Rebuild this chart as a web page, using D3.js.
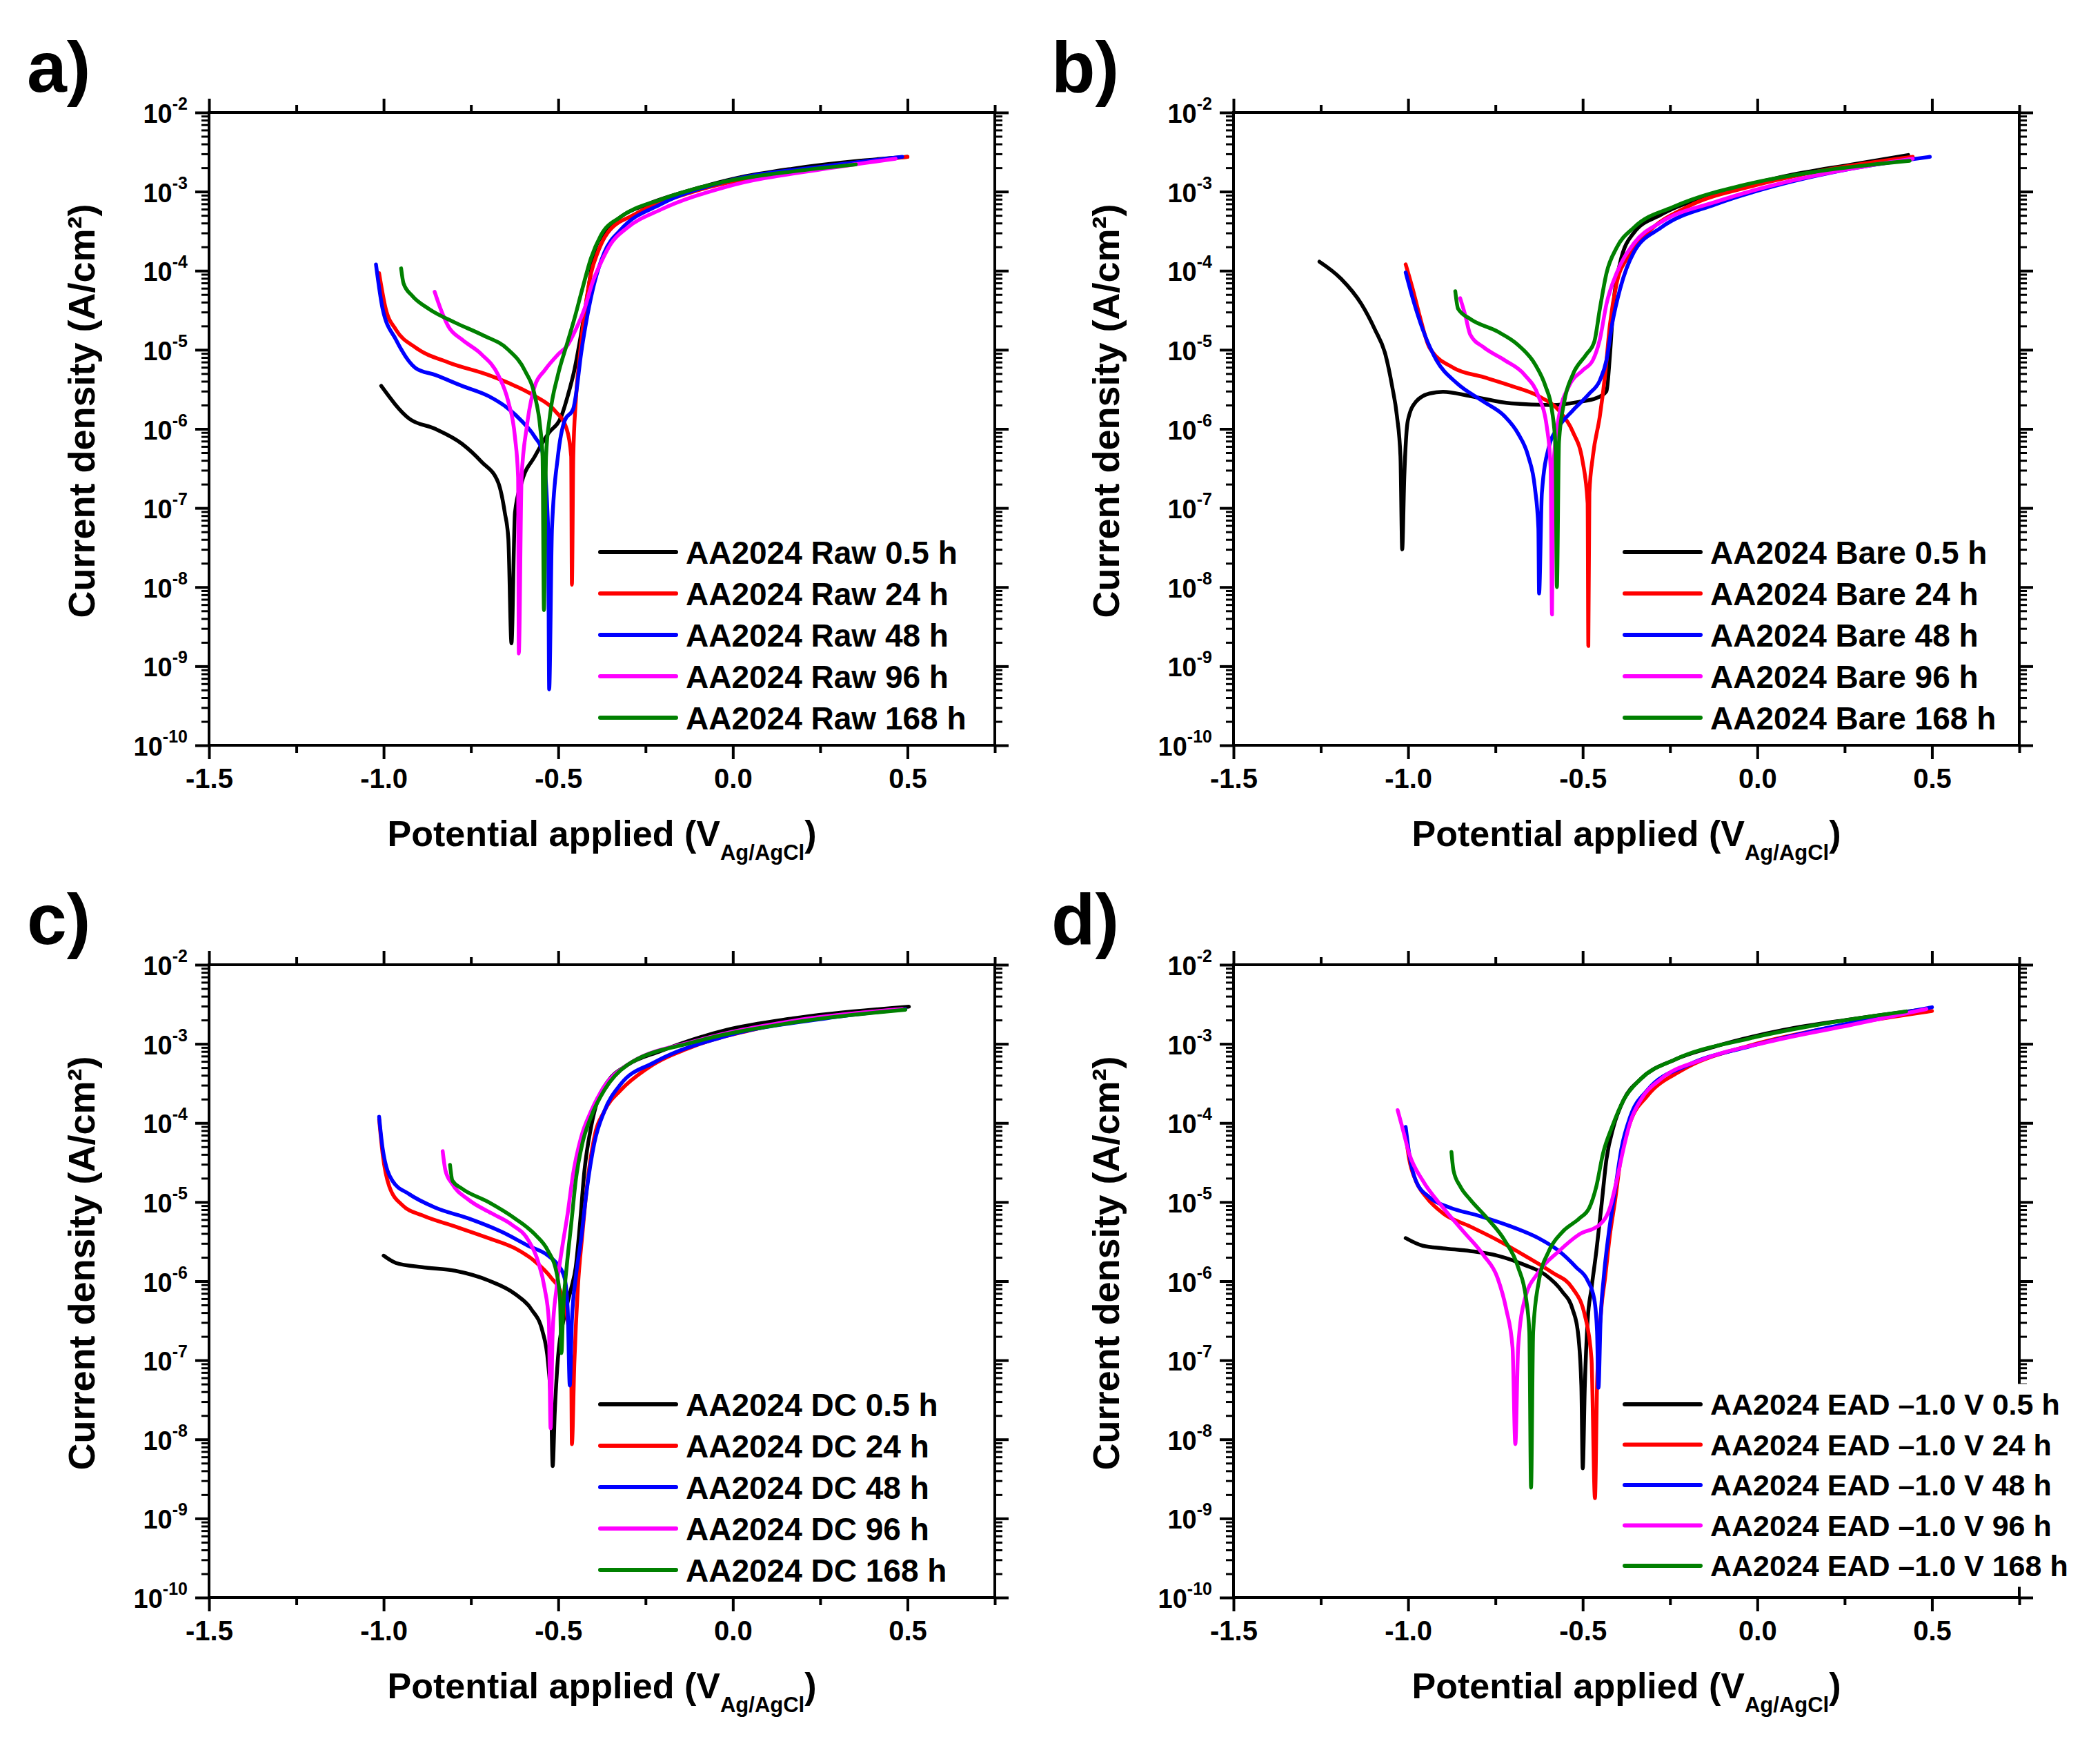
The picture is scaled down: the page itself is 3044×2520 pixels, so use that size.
<!DOCTYPE html>
<html>
<head>
<meta charset="utf-8">
<script src="https://cdn.jsdelivr.net/npm/d3@7"></script>
<style>
body { margin: 0; background: #fff; }
</style>
</head>
<body>
<svg id="fig" width="3044" height="2520"></svg>
<script>
// ---- data: potential (V vs Ag/AgCl), current density (A/cm2) ----
var series_colours = ["#000000", "#ff0000", "#0000ff", "#ff00ff", "#008000"];

var raw_labels = ["AA2024 Raw 0.5 h", "AA2024 Raw 24 h", "AA2024 Raw 48 h", "AA2024 Raw 96 h", "AA2024 Raw 168 h"];
var bare_labels = ["AA2024 Bare 0.5 h", "AA2024 Bare 24 h", "AA2024 Bare 48 h", "AA2024 Bare 96 h", "AA2024 Bare 168 h"];
var dc_labels = ["AA2024 DC 0.5 h", "AA2024 DC 24 h", "AA2024 DC 48 h", "AA2024 DC 96 h", "AA2024 DC 168 h"];
var ead_labels = ["AA2024 EAD \u20131.0 V 0.5 h", "AA2024 EAD \u20131.0 V 24 h", "AA2024 EAD \u20131.0 V 48 h", "AA2024 EAD \u20131.0 V 96 h", "AA2024 EAD \u20131.0 V 168 h"];

var x_tick_values = [-1.5, -1.0, -0.5, 0.0, 0.5];
var x_minor_values = [-1.25, -0.75, -0.25, 0.25, 0.75];
var y_decades = [-2, -3, -4, -5, -6, -7, -8, -9, -10];

var raw_05h = [[-1.007,3.5e-6],[-0.927,1.35e-6],[-0.852,1.0e-6],[-0.776,6.5e-7],[-0.719,3.8e-7],[-0.672,2.1e-7],[-0.653,8.7e-8],[-0.643,4.1e-8],[-0.634,1.95e-9],[-0.624,8.7e-8],[-0.605,2.1e-7],[-0.567,4.5e-7],[-0.529,8.7e-7],[-0.491,1.45e-6],[-0.473,2.6e-6],[-0.454,5.5e-6],[-0.435,1.55e-5],[-0.416,5.1e-5],[-0.397,1.7e-4],[-0.368,3.0e-4],[-0.321,4.8e-4],[-0.245,6.9e-4],[-0.112,1.07e-3],[0.001,1.45e-3],[0.172,1.95e-3],[0.362,2.45e-3],[0.5,2.75e-3]];
var raw_24h = [[-1.013,9.3e-5],[-0.994,3.3e-5],[-0.965,1.8e-5],[-0.909,1.07e-5],[-0.814,6.9e-6],[-0.700,4.8e-6],[-0.624,3.5e-6],[-0.567,2.6e-6],[-0.510,1.7e-6],[-0.476,1.0e-6],[-0.463,4.5e-7],[-0.461,1.07e-8],[-0.457,4.5e-7],[-0.450,2.2e-6],[-0.438,8.7e-6],[-0.425,2.8e-5],[-0.406,9.3e-5],[-0.387,1.7e-4],[-0.359,3.0e-4],[-0.283,5.1e-4],[-0.112,1.0e-3],[0.172,1.8e-3],[0.5,2.75e-3]];
var raw_48h = [[-1.022,1.2e-4],[-1.003,3.3e-5],[-0.965,1.35e-5],[-0.909,5.9e-6],[-0.852,4.8e-6],[-0.776,3.5e-6],[-0.700,2.6e-6],[-0.643,1.8e-6],[-0.605,1.26e-6],[-0.567,7.9e-7],[-0.545,5.1e-7],[-0.529,5.5e-8],[-0.526,5.1e-10],[-0.518,5.5e-8],[-0.501,4.5e-7],[-0.482,1.26e-6],[-0.457,1.8e-6],[-0.450,2.6e-6],[-0.435,8.7e-6],[-0.416,2.8e-5],[-0.397,6.9e-5],[-0.368,1.7e-4],[-0.321,3.3e-4],[-0.207,6.9e-4],[-0.018,1.35e-3],[0.267,2.1e-3],[0.485,2.75e-3]];
var raw_96h = [[-0.854,5.4e-5],[-0.837,3.3e-5],[-0.814,1.95e-5],[-0.776,1.35e-5],[-0.719,8.7e-6],[-0.672,4.8e-6],[-0.643,2.2e-6],[-0.624,7.9e-7],[-0.615,2.45e-7],[-0.613,1.45e-9],[-0.605,2.45e-7],[-0.590,1.07e-6],[-0.567,3.5e-6],[-0.539,5.5e-6],[-0.501,8.7e-6],[-0.473,1.15e-5],[-0.450,1.8e-5],[-0.425,3.3e-5],[-0.403,6.9e-5],[-0.378,1.26e-4],[-0.349,2.2e-4],[-0.302,3.5e-4],[-0.207,5.9e-4],[-0.018,1.15e-3],[0.267,1.95e-3],[0.466,2.6e-3]];
var raw_168h = [[-0.950,1.07e-4],[-0.943,6.9e-5],[-0.918,4.8e-5],[-0.871,3.3e-5],[-0.795,2.2e-5],[-0.719,1.55e-5],[-0.643,1.0e-5],[-0.596,5.5e-6],[-0.567,2.6e-6],[-0.552,1.07e-6],[-0.545,4.5e-7],[-0.541,5.1e-9],[-0.535,4.5e-7],[-0.524,1.45e-6],[-0.501,4.8e-6],[-0.476,1.15e-5],[-0.454,2.45e-5],[-0.431,5.9e-5],[-0.406,1.45e-4],[-0.378,2.8e-4],[-0.321,4.8e-4],[-0.207,7.9e-4],[-0.018,1.35e-3],[0.172,1.8e-3],[0.352,2.2e-3]];

var bare_05h = [[-1.254,1.3e-4],[-1.192,7.9e-5],[-1.134,3.8e-5],[-1.095,1.8e-5],[-1.065,8.7e-6],[-1.046,3.5e-6],[-1.032,1.45e-6],[-1.022,4.5e-7],[-1.017,3.0e-8],[-1.011,2.45e-7],[-1.001,1.26e-6],[-0.978,2.2e-6],[-0.939,2.8e-6],[-0.900,2.95e-6],[-0.822,2.6e-6],[-0.705,2.1e-6],[-0.588,2.0e-6],[-0.510,2.2e-6],[-0.461,2.45e-6],[-0.432,3.0e-6],[-0.422,8.7e-6],[-0.412,3.8e-5],[-0.393,1.26e-4],[-0.354,3.0e-4],[-0.276,5.1e-4],[-0.120,9.3e-4],[0.075,1.55e-3],[0.270,2.2e-3],[0.432,2.9e-3]];
var bare_24h = [[-1.007,1.2e-4],[-0.987,5.9e-5],[-0.968,2.8e-5],[-0.939,1.07e-5],[-0.870,5.9e-6],[-0.783,4.5e-6],[-0.705,3.5e-6],[-0.627,2.6e-6],[-0.568,1.7e-6],[-0.529,9.3e-7],[-0.500,3.8e-7],[-0.486,1.15e-7],[-0.484,1.8e-9],[-0.481,1.55e-7],[-0.471,4.5e-7],[-0.451,1.45e-6],[-0.436,4.8e-6],[-0.422,2.1e-5],[-0.403,6.9e-5],[-0.373,1.45e-4],[-0.315,3.0e-4],[-0.198,6.5e-4],[-0.022,1.15e-3],[0.173,1.8e-3],[0.445,2.75e-3]];
var bare_48h = [[-1.007,9.5e-5],[-0.987,4.5e-5],[-0.958,1.8e-5],[-0.919,7.4e-6],[-0.861,3.8e-6],[-0.783,2.2e-6],[-0.724,1.45e-6],[-0.685,8.7e-7],[-0.656,4.5e-7],[-0.637,1.8e-7],[-0.627,5.5e-8],[-0.625,8.3e-9],[-0.617,1.55e-7],[-0.597,5.9e-7],[-0.568,1.07e-6],[-0.529,1.7e-6],[-0.481,2.8e-6],[-0.451,4.1e-6],[-0.432,7.4e-6],[-0.416,2.1e-5],[-0.393,5.9e-5],[-0.354,1.7e-4],[-0.276,3.5e-4],[-0.120,6.9e-4],[0.075,1.26e-3],[0.270,1.95e-3],[0.494,2.75e-3]];
var bare_96h = [[-0.851,4.5e-5],[-0.837,2.8e-5],[-0.822,1.55e-5],[-0.783,1.07e-5],[-0.724,7.4e-6],[-0.666,4.8e-6],[-0.627,2.6e-6],[-0.603,1.07e-6],[-0.592,3.3e-7],[-0.588,4.5e-9],[-0.584,3.3e-7],[-0.568,1.45e-6],[-0.539,3.5e-6],[-0.500,5.5e-6],[-0.471,7.4e-6],[-0.451,1.35e-5],[-0.432,3.8e-5],[-0.403,9.3e-5],[-0.354,2.2e-4],[-0.276,4.1e-4],[-0.120,7.4e-4],[0.075,1.3e-3],[0.270,1.95e-3],[0.445,2.6e-3]];
var bare_168h = [[-0.865,5.5e-5],[-0.857,3.3e-5],[-0.822,2.45e-5],[-0.744,1.7e-5],[-0.685,1.15e-5],[-0.636,6.5e-6],[-0.607,3.5e-6],[-0.588,1.7e-6],[-0.578,5.9e-7],[-0.574,1.0e-8],[-0.568,6.9e-7],[-0.553,2.2e-6],[-0.529,4.8e-6],[-0.490,8.7e-6],[-0.467,1.26e-5],[-0.451,3.3e-5],[-0.432,9.3e-5],[-0.403,1.95e-4],[-0.354,3.5e-4],[-0.237,6.5e-4],[-0.022,1.26e-3],[0.173,1.8e-3],[0.436,2.45e-3]];

var dc_05h = [[-1.0,2.1e-6],[-0.965,1.7e-6],[-0.890,1.5e-6],[-0.795,1.35e-6],[-0.700,1.02e-6],[-0.624,6.9e-7],[-0.577,4.4e-7],[-0.545,2.3e-7],[-0.529,9.1e-8],[-0.520,2.2e-8],[-0.516,4.6e-9],[-0.510,2.2e-8],[-0.501,1.05e-7],[-0.482,3.7e-7],[-0.463,8.1e-7],[-0.450,1.5e-6],[-0.438,5.2e-6],[-0.425,2.5e-5],[-0.406,8.9e-5],[-0.387,1.95e-4],[-0.359,3.3e-4],[-0.302,5.4e-4],[-0.207,8.1e-4],[-0.018,1.5e-3],[0.172,2.1e-3],[0.504,2.95e-3]];
var dc_24h = [[-1.013,1.12e-4],[-1.003,4.1e-5],[-0.984,1.58e-5],[-0.946,9.1e-6],[-0.890,6.8e-6],[-0.795,4.9e-6],[-0.700,3.5e-6],[-0.624,2.6e-6],[-0.567,1.78e-6],[-0.520,1.1e-6],[-0.491,6.9e-7],[-0.473,3.16e-7],[-0.463,9.1e-8],[-0.461,8.7e-9],[-0.454,9.1e-8],[-0.444,8.1e-7],[-0.431,3.9e-6],[-0.416,1.86e-5],[-0.397,6.5e-5],[-0.368,1.41e-4],[-0.321,2.6e-4],[-0.245,4.9e-4],[-0.112,9.3e-4],[0.077,1.58e-3],[0.267,2.2e-3],[0.494,2.75e-3]];
var dc_48h = [[-1.013,1.2e-4],[-1.003,4.8e-5],[-0.975,1.86e-5],[-0.927,1.26e-5],[-0.852,8.5e-6],[-0.757,6.2e-6],[-0.662,4.2e-6],[-0.586,2.8e-6],[-0.529,2.1e-6],[-0.501,1.6e-6],[-0.482,1.1e-6],[-0.473,4.4e-7],[-0.467,4.8e-8],[-0.461,3.16e-7],[-0.450,1.1e-6],[-0.435,3.3e-6],[-0.419,1.35e-5],[-0.397,5.5e-5],[-0.368,1.41e-4],[-0.321,3.1e-4],[-0.226,5.8e-4],[-0.018,1.26e-3],[0.267,2.1e-3],[0.494,2.75e-3]];
var dc_96h = [[-0.831,4.4e-5],[-0.823,2.5e-5],[-0.804,1.7e-5],[-0.757,1.07e-5],[-0.691,7.2e-6],[-0.634,5.2e-6],[-0.586,3.3e-6],[-0.558,1.78e-6],[-0.539,8.1e-7],[-0.527,3.16e-7],[-0.522,1.38e-8],[-0.516,2.3e-7],[-0.505,8.1e-7],[-0.488,2.8e-6],[-0.473,7.2e-6],[-0.458,2.2e-5],[-0.435,6.5e-5],[-0.406,1.41e-4],[-0.368,2.9e-4],[-0.302,5.4e-4],[-0.112,1.07e-3],[0.172,1.95e-3],[0.485,2.75e-3]];
var dc_168h = [[-0.810,2.95e-5],[-0.803,1.86e-5],[-0.776,1.48e-5],[-0.700,1.0e-5],[-0.624,6.2e-6],[-0.567,3.9e-6],[-0.529,2.4e-6],[-0.505,1.29e-6],[-0.495,5.9e-7],[-0.491,1.23e-7],[-0.486,4.4e-7],[-0.476,1.5e-6],[-0.463,5.2e-6],[-0.450,1.86e-5],[-0.431,5.5e-5],[-0.406,1.2e-4],[-0.368,2.6e-4],[-0.302,5.4e-4],[-0.112,1.05e-3],[0.172,1.86e-3],[0.494,2.7e-3]];

var ead_05h = [[-1.007,3.5e-6],[-0.958,2.8e-6],[-0.900,2.6e-6],[-0.822,2.4e-6],[-0.744,2.1e-6],[-0.666,1.6e-6],[-0.607,1.2e-6],[-0.559,7.4e-7],[-0.529,4.4e-7],[-0.514,2.3e-7],[-0.504,4.8e-8],[-0.500,4.3e-9],[-0.494,4.8e-8],[-0.486,3.16e-7],[-0.475,8.1e-7],[-0.461,2.4e-6],[-0.447,8.5e-6],[-0.432,3.5e-5],[-0.412,8.9e-5],[-0.383,1.95e-4],[-0.334,3.6e-4],[-0.237,6.3e-4],[-0.120,9.3e-4],[0.075,1.5e-3],[0.270,2.05e-3],[0.484,2.75e-3]];
var ead_24h = [[-1.007,7.1e-5],[-0.997,3.5e-5],[-0.978,1.86e-5],[-0.948,1.15e-5],[-0.900,7.2e-6],[-0.822,4.9e-6],[-0.744,3.3e-6],[-0.666,2.1e-6],[-0.588,1.29e-6],[-0.529,8.1e-7],[-0.494,3.7e-7],[-0.475,1.05e-7],[-0.465,1.8e-9],[-0.459,4.8e-8],[-0.447,4.4e-7],[-0.436,1.1e-6],[-0.422,3.9e-6],[-0.408,1.0e-5],[-0.389,4.1e-5],[-0.364,1.02e-4],[-0.315,2.2e-4],[-0.217,4.6e-4],[-0.022,9.5e-4],[0.173,1.5e-3],[0.5,2.6e-3]];
var ead_48h = [[-1.007,8.9e-5],[-0.997,4.1e-5],[-0.978,1.86e-5],[-0.939,1.15e-5],[-0.880,8.5e-6],[-0.802,6.8e-6],[-0.705,4.9e-6],[-0.627,3.5e-6],[-0.568,2.4e-6],[-0.519,1.5e-6],[-0.486,1.02e-6],[-0.467,5.9e-7],[-0.459,2.3e-7],[-0.455,4.5e-8],[-0.449,3.16e-7],[-0.440,1.1e-6],[-0.426,3.9e-6],[-0.408,1.35e-5],[-0.389,4.8e-5],[-0.364,1.2e-4],[-0.315,2.6e-4],[-0.198,5.4e-4],[-0.022,9.3e-4],[0.173,1.5e-3],[0.5,2.9e-3]];
var ead_96h = [[-1.030,1.45e-4],[-1.017,8.9e-5],[-0.997,4.1e-5],[-0.958,1.86e-5],[-0.900,8.5e-6],[-0.841,4.2e-6],[-0.783,2.1e-6],[-0.744,1.1e-6],[-0.719,4.4e-7],[-0.701,1.45e-7],[-0.693,8.7e-9],[-0.685,1.45e-7],[-0.666,5.9e-7],[-0.627,1.29e-6],[-0.568,2.4e-6],[-0.510,3.9e-6],[-0.451,5.2e-6],[-0.422,8.5e-6],[-0.403,1.86e-5],[-0.383,4.8e-5],[-0.364,1.02e-4],[-0.334,1.95e-4],[-0.276,3.6e-4],[-0.159,6.3e-4],[0.036,1.07e-3],[0.270,1.74e-3],[0.484,2.75e-3]];
var ead_168h = [[-0.876,4.3e-5],[-0.870,2.5e-5],[-0.851,1.58e-5],[-0.822,1.07e-5],[-0.773,6.2e-6],[-0.724,3.3e-6],[-0.685,1.5e-6],[-0.662,5.9e-7],[-0.653,2.3e-7],[-0.648,2.45e-9],[-0.642,2.3e-7],[-0.627,9.3e-7],[-0.597,2.4e-6],[-0.558,4.2e-6],[-0.510,6.2e-6],[-0.481,8.5e-6],[-0.461,1.58e-5],[-0.442,4.1e-5],[-0.416,8.9e-5],[-0.383,1.95e-4],[-0.334,3.6e-4],[-0.237,6.3e-4],[-0.022,1.17e-3],[0.173,1.74e-3],[0.426,2.57e-3]];

var raw_data = [raw_05h, raw_24h, raw_48h, raw_96h, raw_168h];
var bare_data = [bare_05h, bare_24h, bare_48h, bare_96h, bare_168h];
var dc_data = [dc_05h, dc_24h, dc_48h, dc_96h, dc_168h];
var ead_data = [ead_05h, ead_24h, ead_48h, ead_96h, ead_168h];

// ---- layout ----
var font_family = "'Liberation Sans', Arial, Helvetica, sans-serif";
var plot_w = 1139, plot_h = 917;

var panels = [
	{letter: "a)", left: 303, top: 163, labels: raw_labels, data: raw_data, legend_font: 46, legend_step: 60},
	{letter: "b)", left: 1788, top: 163, labels: bare_labels, data: bare_data, legend_font: 46, legend_step: 60},
	{letter: "c)", left: 303, top: 1398, labels: dc_labels, data: dc_data, legend_font: 46, legend_step: 60},
	{letter: "d)", left: 1788, top: 1398, labels: ead_labels, data: ead_data, legend_font: 43, legend_step: 58.5}
];

var svg = d3.select("svg#fig");
svg.append("rect").attr("width", 3044).attr("height", 2520).attr("fill", "#fff");

function fn_draw_panel(p) {
	var x = d3.scaleLinear().domain([-1.5, 0.75]).range([0, plot_w]);
	var y = d3.scaleLog().domain([1e-10, 1e-2]).range([plot_h, 0]);

	var g = svg.append("g")
		.attr("transform", "translate(" + p.left + "," + p.top + ")")
		.attr("font-family", font_family)
		.attr("font-weight", "bold");

	// minor log ticks, 2..9 in each decade
	var y_minor = [];
	y_decades.forEach(function(n) {
		if (n == -2) return;
		for (var k = 2; k <= 9; k++) y_minor.push(k * Math.pow(10, n));
	});
	var y_major = y_decades.map(function(n) { return Math.pow(10, n); });

	function fn_style_axis(sel, w) {
		sel.select(".domain").remove();
		sel.selectAll(".tick line").attr("stroke", "#000").attr("stroke-width", w);
	}

	// ticks on all four sides, pointing out
	g.append("g").call(d3.axisLeft(y).tickValues(y_minor).tickSize(11).tickFormat(""))
		.call(fn_style_axis, 3);
	g.append("g").call(d3.axisLeft(y).tickValues(y_major).tickSize(20).tickFormat(""))
		.call(fn_style_axis, 4);
	g.append("g").attr("transform", "translate(" + plot_w + ",0)")
		.call(d3.axisRight(y).tickValues(y_minor).tickSize(11).tickFormat(""))
		.call(fn_style_axis, 3);
	g.append("g").attr("transform", "translate(" + plot_w + ",0)")
		.call(d3.axisRight(y).tickValues(y_major).tickSize(20).tickFormat(""))
		.call(fn_style_axis, 4);

	g.append("g").call(d3.axisTop(x).tickValues(x_minor_values).tickSize(11).tickFormat(""))
		.call(fn_style_axis, 4);
	g.append("g").call(d3.axisTop(x).tickValues(x_tick_values).tickSize(20).tickFormat(""))
		.call(fn_style_axis, 4);
	g.append("g").attr("transform", "translate(0," + plot_h + ")")
		.call(d3.axisBottom(x).tickValues(x_minor_values).tickSize(11).tickFormat(""))
		.call(fn_style_axis, 4);

	var x_axis = g.append("g").attr("transform", "translate(0," + plot_h + ")")
		.call(d3.axisBottom(x).tickValues(x_tick_values).tickSize(20).tickPadding(14)
			.tickFormat(function(d) { return d.toFixed(1); }))
		.call(fn_style_axis, 4);
	x_axis.attr("font-family", font_family).attr("font-size", 40).attr("font-weight", "bold");
	x_axis.selectAll("text").attr("fill", "#000");

	// y tick labels 10^n
	var y_lab = g.append("g").attr("class", "y-labels");
	y_decades.forEach(function(n) {
		var t = y_lab.append("text")
			.attr("x", -31)
			.attr("y", y(Math.pow(10, n)) + 15)
			.attr("text-anchor", "end")
			.attr("font-size", 38);
		t.append("tspan").text("10");
		t.append("tspan").attr("font-size", 25).attr("dy", -19).text(String(n));
	});

	// curves
	var line = d3.line()
		.curve(d3.curveMonotoneX)
		.x(function(d) { return x(d[0]); })
		.y(function(d) { return y(d[1]); });

	g.append("g").selectAll("path")
		.data(p.data)
		.enter().append("path")
		.attr("d", line)
		.attr("fill", "none")
		.attr("stroke", function(d, i) { return series_colours[i]; })
		.attr("stroke-width", 5.5)
		.attr("stroke-linejoin", "round")
		.attr("stroke-linecap", "round");

	// frame
	g.append("rect")
		.attr("width", plot_w).attr("height", plot_h)
		.attr("fill", "none").attr("stroke", "#000").attr("stroke-width", 4);

	// legend (white box, it hides the right axis in d)
	var leg = g.append("g").attr("transform", "translate(567,637)");
	var leg_bg = leg.append("rect").attr("fill", "#fff");
	p.labels.forEach(function(lab, i) {
		var yy = i * p.legend_step;
		leg.append("line")
			.attr("x1", 0).attr("x2", 110).attr("y1", yy).attr("y2", yy)
			.attr("stroke", series_colours[i]).attr("stroke-width", 6)
			.attr("stroke-linecap", "round");
		leg.append("text")
			.attr("x", 124).attr("y", yy + p.legend_font * 0.36)
			.attr("font-size", p.legend_font)
			.text(lab);
	});
	var bb = leg.node().getBBox();
	leg_bg.attr("x", bb.x - 8).attr("y", bb.y - 6)
		.attr("width", bb.width + 16).attr("height", bb.height + 12);

	// axis titles
	g.append("text")
		.attr("transform", "translate(-166," + (plot_h / 2 - 26) + ") rotate(-90)")
		.attr("text-anchor", "middle")
		.attr("font-size", 54)
		.text("Current density (A/cm\u00b2)");

	var xt = g.append("text")
		.attr("x", plot_w / 2)
		.attr("y", plot_h + 146)
		.attr("text-anchor", "middle")
		.attr("font-size", 52);
	xt.append("tspan").text("Potential applied (V");
	xt.append("tspan").attr("font-size", 31).attr("dy", 20).text("Ag/AgCl");
	xt.append("tspan").attr("dy", -20).text(")");

	// panel letter
	g.append("text")
		.attr("x", -264).attr("y", -30)
		.attr("font-size", 104)
		.text(p.letter);
}

panels.forEach(fn_draw_panel);
</script>
</body>
</html>
